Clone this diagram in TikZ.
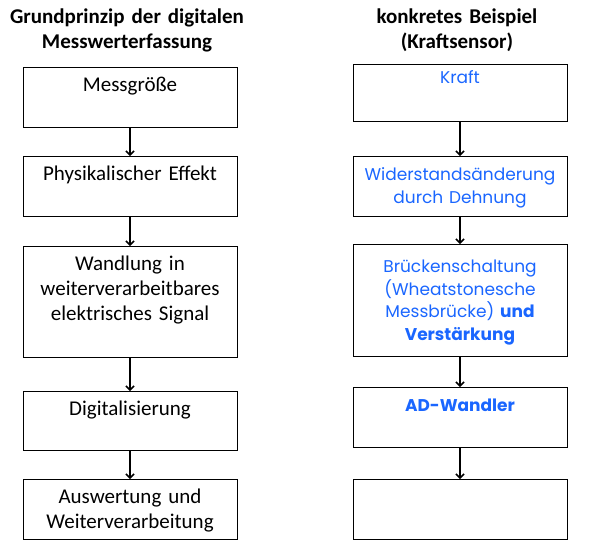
\documentclass[tikz,border=0pt]{standalone}
\usepackage{fontspec}
\setmainfont{Carlito}
\newfontfamily\handfont{Poppins}
\usetikzlibrary{
  positioning,
  arrows.meta
}
\definecolor{handblue}{RGB}{26,102,255}
\tikzset{
  ->,
  >={Straight Barb[length=4pt, width=8pt]},
  x=1pt, y=-1pt,
  box/.style={draw, line width=1pt, text width=208pt, align=center,
    inner xsep=3pt, inner ysep=3pt, anchor=north,
    text height=21pt, text depth=#1,
    font=\fontsize{21}{25}\selectfont},
  box/.default=33pt,
  hand/.style={box=#1, text=handblue,
    font=\handfont\fontsize{17}{22.7}\selectfont},
  hand/.default=33pt,
  title/.style={text width=280pt, align=center, anchor=base,
    font=\bfseries\fontsize{21}{25}\selectfont},
  flow/.style={line width=1.5pt}
}
\begin{document}
\begin{tikzpicture}
    \useasboundingbox (0,0) rectangle (589,550);
    % Spalte links
    \node[title] (tl) at (127,23) {Grundprinzip der digitalen\\Messwerterfassung};
    \node[box] (m1) at (130,67) {Messgröße};
    \node[box, below=28pt of m1] (m2) {Physikalischer Effekt};
    \node[box=84pt, below=29pt of m2] (m3) {Wandlung in\\weiterverarbeitbares\\elektrisches Signal};
    \node[box=32pt, below=33pt of m3] (m4) {Digitalisierung};
    \node[box, below=28pt of m4] (m5) {Auswertung und\\Weiterverarbeitung};
    % Spalte rechts
    \node[title] (tr) at (457,23) {konkretes Beispiel\\(Kraftsensor)};
    \node[hand=35pt, text height=16pt] (k1) at (460,64) {Kraft};
    \node[hand, below=34pt of k1] (k2) {Widerstandsänderung\\durch Dehnung};
    \node[hand=81pt, text height=25pt, below=27pt of k2] (k3) {Brückenschaltung\\(Wheatstonesche\\Messbrücke) \textbf{und}\\\textbf{Verstärkung}};
    \node[hand, below=30pt of k3] (k4) {\textbf{AD-Wandler}};
    \node[hand, below=31pt of k4] (k5) {};
    % Pfeile
    \draw[flow] (m1) -- (m2);
    \draw[flow] (m2) -- (m3);
    \draw[flow] (m3) -- (m4);
    \draw[flow] (m4) -- (m5);
    \draw[flow] (k1) -- (k2);
    \draw[flow] (k2) -- (k3);
    \draw[flow] (k3) -- (k4);
    \draw[flow] (k4) -- (k5);
\end{tikzpicture}
\end{document}
